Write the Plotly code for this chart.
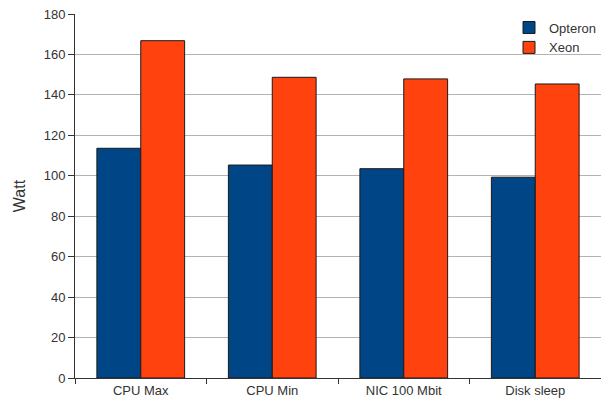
import plotly.graph_objects as go

categories = ["CPU Max", "CPU Min", "NIC 100 Mbit", "Disk sleep"]
opteron = [113.6, 105.3, 103.5, 99.3]
xeon = [166.8, 148.7, 147.9, 145.4]
y_ticks = [0, 20, 40, 60, 80, 100, 120, 140, 160, 180]

fig = go.Figure()
fig.add_bar(name="Opteron", x=categories, y=opteron, marker=dict(color="#004586", line=dict(color="#1a1a1a", width=1)))
fig.add_bar(name="Xeon", x=categories, y=xeon, marker=dict(color="#ff420e", line=dict(color="#1a1a1a", width=1)))

fig.update_layout(
    width=601, height=405,
    margin=dict(l=75, r=0, t=14, b=27),
    paper_bgcolor="white", plot_bgcolor="white",
    barmode="group", bargap=0.333, bargroupgap=0,
    font=dict(family="Liberation Sans, Arial, sans-serif", size=13, color="#333333"),
    legend=dict(x=1, y=1.004, xanchor="right", yanchor="top", bgcolor="rgba(0,0,0,0)",
                font=dict(size=13, color="#333333"), tracegroupgap=0, itemwidth=30),
    showlegend=True,
)
fig.update_xaxes(showline=True, linecolor="#333333", linewidth=1, ticks="outside", ticklen=5,
                 tickcolor="#333333", tickson="boundaries", showgrid=False)
fig.update_yaxes(range=[0, 180], tickvals=y_ticks, showline=True, linecolor="#333333", linewidth=1,
                 ticks="outside", ticklen=6, tickcolor="#333333", gridcolor="#b3b3b3", gridwidth=1,
                 title=dict(text="Watt", standoff=14), zeroline=False)
fig.write_html("out.html", config={"displayModeBar": False},
               post_script="document.body.style.margin='0';document.body.style.overflow='hidden';")
